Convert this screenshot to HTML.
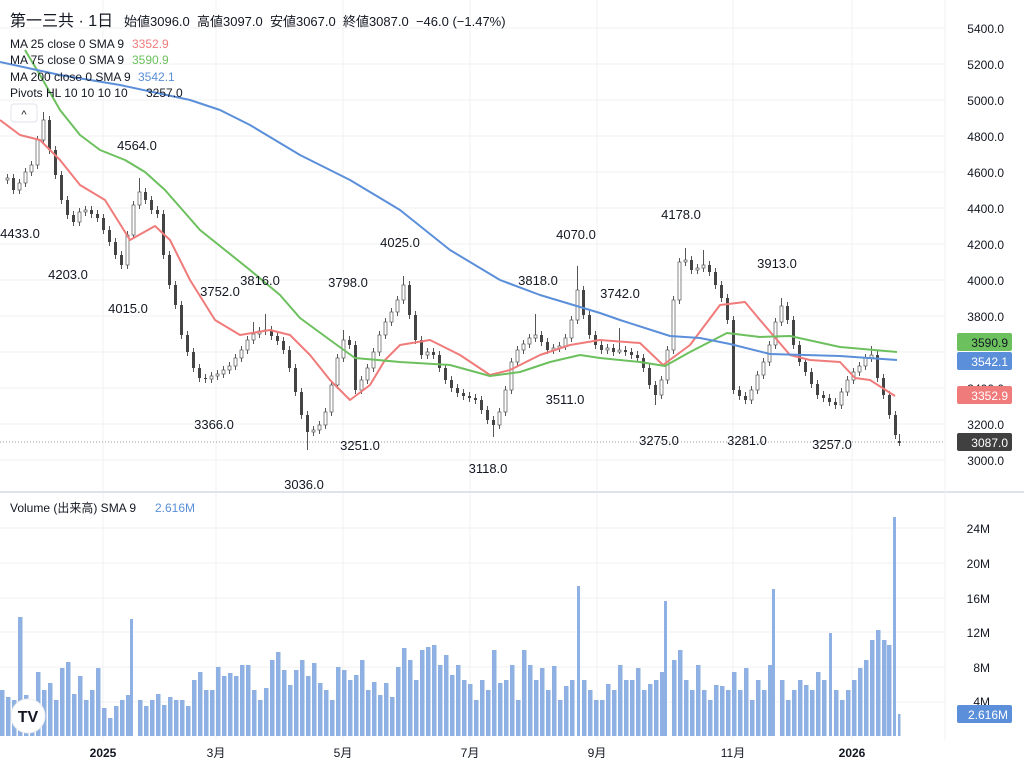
<!DOCTYPE html>
<html><head><meta charset="utf-8"><style>
html,body{margin:0;padding:0;background:#fff;width:1024px;height:768px;overflow:hidden}
svg{display:block;font-family:"Liberation Sans","Noto Sans CJK JP",sans-serif}
</style></head><body>
<svg width="1024" height="768" viewBox="0 0 1024 768" xmlns="http://www.w3.org/2000/svg">
<g stroke="#f0f1f3">
<path d="M0 28H945M0 64H945M0 100H945M0 136H945M0 172H945M0 208H945M0 244H945M0 280H945M0 316H945M0 352H945M0 388H945M0 424H945M0 460H945M0 528H945M0 563H945M0 598H945M0 632H945M0 667H945M0 702H945"/>
<path d="M103 0V740M216 0V740M343 0V740M470 0V740M597 0V740M733 0V740M852 0V740"/>
</g>
<line x1="0" x2="1024" y1="492" y2="492" stroke="#e0e3eb" stroke-width="2"/>
<line x1="945" x2="945" y1="0" y2="740" stroke="#eef0f3"/>

<!-- volume -->
<g fill="#8fb0e3">
<rect x="0" y="690" width="4.5" height="46"/><rect x="6" y="697" width="4.5" height="39"/><rect x="12" y="700" width="4.5" height="36"/><rect x="18" y="617" width="4.5" height="119"/><rect x="24" y="695" width="4.5" height="41"/><rect x="30" y="702" width="4.5" height="34"/><rect x="36" y="672" width="4.5" height="64"/><rect x="42" y="690" width="4.5" height="46"/><rect x="48" y="683" width="4.5" height="53"/><rect x="54" y="700" width="4.5" height="36"/>
<rect x="60" y="668" width="4.5" height="68"/><rect x="66" y="662" width="4.5" height="74"/><rect x="72" y="694" width="4.5" height="42"/><rect x="78" y="676" width="4.5" height="60"/><rect x="84" y="700" width="4.5" height="36"/><rect x="90" y="690" width="4.5" height="46"/><rect x="96" y="668" width="4.5" height="68"/><rect x="102" y="708" width="4.5" height="28"/><rect x="108" y="718" width="4.5" height="18"/><rect x="114" y="706" width="4.5" height="30"/>
<rect x="120" y="700" width="4.5" height="36"/><rect x="126" y="695" width="4.5" height="41"/><rect x="130" y="619" width="3" height="117"/><rect x="138" y="700" width="4.5" height="36"/><rect x="144" y="706" width="4.5" height="30"/><rect x="150" y="700" width="4.5" height="36"/><rect x="156" y="694" width="4.5" height="42"/><rect x="162" y="705" width="4.5" height="31"/><rect x="168" y="697" width="4.5" height="39"/><rect x="174" y="700" width="4.5" height="36"/>
<rect x="180" y="700" width="4.5" height="36"/><rect x="186" y="706" width="4.5" height="30"/><rect x="192" y="680" width="4.5" height="56"/><rect x="198" y="672" width="4.5" height="64"/><rect x="204" y="690" width="4.5" height="46"/><rect x="210" y="690" width="4.5" height="46"/><rect x="216" y="667" width="4.5" height="69"/><rect x="222" y="676" width="4.5" height="60"/><rect x="228" y="673" width="4.5" height="63"/><rect x="234" y="676" width="4.5" height="60"/>
<rect x="240" y="665" width="4.5" height="71"/><rect x="246" y="665" width="4.5" height="71"/><rect x="252" y="690" width="4.5" height="46"/><rect x="258" y="700" width="4.5" height="36"/><rect x="264" y="688" width="4.5" height="48"/><rect x="270" y="660" width="4.5" height="76"/><rect x="276" y="652" width="4.5" height="84"/><rect x="282" y="670" width="4.5" height="66"/><rect x="288" y="685" width="4.5" height="51"/><rect x="294" y="670" width="4.5" height="66"/>
<rect x="300" y="660" width="4.5" height="76"/><rect x="306" y="676" width="4.5" height="60"/><rect x="312" y="663" width="4.5" height="73"/><rect x="318" y="683" width="4.5" height="53"/><rect x="324" y="690" width="4.5" height="46"/><rect x="330" y="700" width="4.5" height="36"/><rect x="336" y="667" width="4.5" height="69"/><rect x="342" y="670" width="4.5" height="66"/><rect x="348" y="680" width="4.5" height="56"/><rect x="354" y="675" width="4.5" height="61"/>
<rect x="360" y="660" width="4.5" height="76"/><rect x="366" y="690" width="4.5" height="46"/><rect x="372" y="682" width="4.5" height="54"/><rect x="378" y="695" width="4.5" height="41"/><rect x="384" y="683" width="4.5" height="53"/><rect x="390" y="697" width="4.5" height="39"/><rect x="396" y="667" width="4.5" height="69"/><rect x="402" y="648" width="4.5" height="88"/><rect x="408" y="660" width="4.5" height="76"/><rect x="414" y="680" width="4.5" height="56"/>
<rect x="420" y="650" width="4.5" height="86"/><rect x="426" y="647" width="4.5" height="89"/><rect x="432" y="645" width="4.5" height="91"/><rect x="438" y="665" width="4.5" height="71"/><rect x="444" y="655" width="4.5" height="81"/><rect x="450" y="675" width="4.5" height="61"/><rect x="456" y="665" width="4.5" height="71"/><rect x="462" y="680" width="4.5" height="56"/><rect x="468" y="684" width="4.5" height="52"/><rect x="474" y="700" width="4.5" height="36"/>
<rect x="480" y="680" width="4.5" height="56"/><rect x="486" y="690" width="4.5" height="46"/><rect x="492" y="650" width="4.5" height="86"/><rect x="498" y="683" width="4.5" height="53"/><rect x="504" y="680" width="4.5" height="56"/><rect x="510" y="665" width="4.5" height="71"/><rect x="516" y="700" width="4.5" height="36"/><rect x="522" y="650" width="4.5" height="86"/><rect x="528" y="665" width="4.5" height="71"/><rect x="534" y="680" width="4.5" height="56"/>
<rect x="540" y="668" width="4.5" height="68"/><rect x="546" y="690" width="4.5" height="46"/><rect x="552" y="666" width="4.5" height="70"/><rect x="558" y="700" width="4.5" height="36"/><rect x="564" y="686" width="4.5" height="50"/><rect x="570" y="680" width="4.5" height="56"/><rect x="577" y="586" width="3" height="150"/><rect x="582" y="680" width="4.5" height="56"/><rect x="588" y="690" width="4.5" height="46"/><rect x="594" y="700" width="4.5" height="36"/>
<rect x="600" y="700" width="4.5" height="36"/><rect x="606" y="684" width="4.5" height="52"/><rect x="612" y="690" width="4.5" height="46"/><rect x="618" y="665" width="4.5" height="71"/><rect x="624" y="680" width="4.5" height="56"/><rect x="630" y="680" width="4.5" height="56"/><rect x="636" y="668" width="4.5" height="68"/><rect x="642" y="690" width="4.5" height="46"/><rect x="648" y="684" width="4.5" height="52"/><rect x="654" y="680" width="4.5" height="56"/>
<rect x="660" y="672" width="4.5" height="64"/><rect x="664" y="601" width="3" height="135"/><rect x="672" y="660" width="4.5" height="76"/><rect x="678" y="650" width="4.5" height="86"/><rect x="684" y="680" width="4.5" height="56"/><rect x="690" y="690" width="4.5" height="46"/><rect x="696" y="665" width="4.5" height="71"/><rect x="702" y="690" width="4.5" height="46"/><rect x="708" y="700" width="4.5" height="36"/><rect x="714" y="685" width="4.5" height="51"/>
<rect x="720" y="686" width="4.5" height="50"/><rect x="726" y="690" width="4.5" height="46"/><rect x="732" y="672" width="4.5" height="64"/><rect x="738" y="690" width="4.5" height="46"/><rect x="744" y="668" width="4.5" height="68"/><rect x="750" y="700" width="4.5" height="36"/><rect x="756" y="680" width="4.5" height="56"/><rect x="762" y="690" width="4.5" height="46"/><rect x="768" y="665" width="4.5" height="71"/><rect x="772" y="589" width="3" height="147"/>
<rect x="780" y="680" width="4.5" height="56"/><rect x="786" y="700" width="4.5" height="36"/><rect x="792" y="690" width="4.5" height="46"/><rect x="798" y="680" width="4.5" height="56"/><rect x="804" y="685" width="4.5" height="51"/><rect x="810" y="690" width="4.5" height="46"/><rect x="816" y="672" width="4.5" height="64"/><rect x="822" y="680" width="4.5" height="56"/><rect x="829" y="633" width="3" height="103"/><rect x="834" y="690" width="4.5" height="46"/>
<rect x="840" y="700" width="4.5" height="36"/><rect x="846" y="690" width="4.5" height="46"/><rect x="852" y="680" width="4.5" height="56"/><rect x="858" y="668" width="4.5" height="68"/><rect x="864" y="660" width="4.5" height="76"/><rect x="870" y="640" width="4.5" height="96"/><rect x="876" y="630" width="4.5" height="106"/><rect x="882" y="640" width="4.5" height="96"/><rect x="887" y="645" width="4.5" height="91"/><rect x="893" y="517" width="3" height="219"/><rect x="898" y="714" width="2.5" height="22"/>
</g>

<!-- wicks -->
<path fill="none" stroke="#444" stroke-width="0.9" d="M7.5 174V184M13.5 174V194M19.5 179V194M25.5 168V187M31.5 161V176M37.5 136V169M43.5 112V144M49.5 116V154M55.5 146V179M61.5 171V204M67.5 196V219M73.5 211V226M79.5 208V226M85.5 206V216M91.5 206V218M97.5 210V222M103.5 214V234M109.5 226V246M115.5 238V259M121.5 251V269M127.5 231V269M133.5 201V239M139.5 178V209M145.5 188V204M151.5 196V214M157.5 206V218M163.5 210V259M169.5 251V289M175.5 281V309M181.5 301V339M187.5 331V356M193.5 348V372M199.5 364V382M205.5 374V383M211.5 372V383M217.5 370V380M223.5 366V378M229.5 362V374M235.5 354V370M241.5 346V362M247.5 336V354M253.5 322V344M259.5 327V338M265.5 314V335M271.5 326V340M277.5 332V345M283.5 337V354M289.5 346V372M295.5 364V396M301.5 388V419M307.5 411V450M313.5 426V436M319.5 421V434M325.5 408V429M331.5 381V416M337.5 354V389M343.5 330V362M349.5 336V349M355.5 341V394M361.5 376V394M367.5 364V384M373.5 348V372M379.5 331V356M385.5 318V339M391.5 308V326M397.5 296V316M403.5 276V304M409.5 281V319M415.5 311V344M421.5 336V359M427.5 348V359M433.5 348V359M439.5 351V372M445.5 364V384M451.5 376V392M457.5 384V397M463.5 389V400M469.5 392V402M475.5 394V404M481.5 396V414M487.5 406V424M493.5 416V437M499.5 408V429M505.5 386V416M511.5 358V394M517.5 346V366M523.5 340V354M529.5 334V348M535.5 314V342M541.5 331V346M547.5 338V354M553.5 344V354M559.5 342V352M565.5 334V350M571.5 316V342M577.5 266V324M583.5 286V319M589.5 311V339M595.5 331V349M601.5 341V354M607.5 344V354M613.5 344V356M619.5 328V354M625.5 346V356M631.5 348V359M637.5 351V362M643.5 354V372M649.5 364V389M655.5 381V405M661.5 376V399M667.5 346V384M673.5 296V354M679.5 258V304M685.5 248V266M691.5 256V274M697.5 264V274M703.5 250V272M709.5 261V276M715.5 268V289M721.5 281V302M727.5 294V324M733.5 316V394M739.5 386V400M745.5 392V404M751.5 386V404M757.5 371V394M763.5 358V379M769.5 341V366M775.5 318V349M781.5 298V326M787.5 302V324M793.5 316V349M799.5 341V366M805.5 358V376M811.5 368V388M817.5 380V399M823.5 391V402M829.5 394V406M835.5 398V409M841.5 388V409M847.5 376V396M853.5 368V384M859.5 362V376M865.5 354V370M871.5 346V362M877.5 351V382M883.5 374V399M889.5 391V419M895.5 411V439M899.5 434V446"/>
<!-- down candles -->
<g fill="#444">
<rect x="12" y="178" width="3" height="12"/><rect x="48" y="120" width="3" height="30"/><rect x="54" y="150" width="3" height="25"/><rect x="60" y="175" width="3" height="25"/><rect x="66" y="200" width="3" height="15"/><rect x="72" y="215" width="3" height="7"/><rect x="90" y="210" width="3" height="4"/><rect x="96" y="214" width="3" height="4"/><rect x="102" y="218" width="3" height="12"/><rect x="108" y="230" width="3" height="12"/><rect x="114" y="242" width="3" height="13"/><rect x="120" y="255" width="3" height="10"/><rect x="144" y="192" width="3" height="8"/><rect x="150" y="200" width="3" height="10"/><rect x="156" y="210" width="3" height="4"/><rect x="162" y="214" width="3" height="41"/><rect x="168" y="255" width="3" height="30"/><rect x="174" y="285" width="3" height="20"/><rect x="180" y="305" width="3" height="30"/><rect x="186" y="335" width="3" height="17"/><rect x="192" y="352" width="3" height="16"/><rect x="198" y="368" width="3" height="10"/><rect x="204" y="378" width="3" height="1"/><rect x="270" y="330" width="3" height="6"/><rect x="276" y="336" width="3" height="5"/><rect x="282" y="341" width="3" height="9"/><rect x="288" y="350" width="3" height="18"/><rect x="294" y="368" width="3" height="24"/><rect x="300" y="392" width="3" height="23"/><rect x="306" y="415" width="3" height="17"/><rect x="348" y="340" width="3" height="5"/><rect x="354" y="345" width="3" height="45"/><rect x="408" y="285" width="3" height="30"/><rect x="414" y="315" width="3" height="25"/><rect x="420" y="340" width="3" height="15"/><rect x="432" y="352" width="3" height="3"/><rect x="438" y="355" width="3" height="13"/><rect x="444" y="368" width="3" height="12"/><rect x="450" y="380" width="3" height="8"/><rect x="456" y="388" width="3" height="5"/><rect x="462" y="393" width="3" height="3"/><rect x="468" y="396" width="3" height="2"/><rect x="474" y="398" width="3" height="2"/><rect x="480" y="400" width="3" height="10"/><rect x="486" y="410" width="3" height="10"/><rect x="492" y="420" width="3" height="5"/><rect x="540" y="335" width="3" height="7"/><rect x="546" y="342" width="3" height="8"/><rect x="582" y="290" width="3" height="25"/><rect x="588" y="315" width="3" height="20"/><rect x="594" y="335" width="3" height="10"/><rect x="600" y="345" width="3" height="5"/><rect x="612" y="348" width="3" height="4"/><rect x="624" y="350" width="3" height="2"/><rect x="630" y="352" width="3" height="3"/><rect x="636" y="355" width="3" height="3"/><rect x="642" y="358" width="3" height="10"/><rect x="648" y="368" width="3" height="17"/><rect x="654" y="385" width="3" height="10"/><rect x="690" y="260" width="3" height="10"/><rect x="708" y="265" width="3" height="7"/><rect x="714" y="272" width="3" height="13"/><rect x="720" y="285" width="3" height="13"/><rect x="726" y="298" width="3" height="22"/><rect x="732" y="320" width="3" height="70"/><rect x="738" y="390" width="3" height="6"/><rect x="744" y="396" width="3" height="4"/><rect x="786" y="306" width="3" height="14"/><rect x="792" y="320" width="3" height="25"/><rect x="798" y="345" width="3" height="17"/><rect x="804" y="362" width="3" height="10"/><rect x="810" y="372" width="3" height="12"/><rect x="816" y="384" width="3" height="11"/><rect x="822" y="395" width="3" height="3"/><rect x="828" y="398" width="3" height="4"/><rect x="834" y="402" width="3" height="3"/><rect x="876" y="355" width="3" height="23"/><rect x="882" y="378" width="3" height="17"/><rect x="888" y="395" width="3" height="20"/><rect x="894" y="415" width="3" height="20"/><rect x="898" y="441" width="3" height="2"/>
</g>
<!-- up candles -->
<g fill="#fff" stroke="#555" stroke-width="0.7">
<rect x="6" y="178" width="3" height="2"/><rect x="18" y="183" width="3" height="7"/><rect x="24" y="172" width="3" height="11"/><rect x="30" y="165" width="3" height="7"/><rect x="36" y="140" width="3" height="25"/><rect x="42" y="120" width="3" height="20"/><rect x="78" y="212" width="3" height="10"/><rect x="84" y="210" width="3" height="2"/><rect x="126" y="235" width="3" height="30"/><rect x="132" y="205" width="3" height="30"/><rect x="138" y="192" width="3" height="13"/><rect x="210" y="376" width="3" height="3"/><rect x="216" y="374" width="3" height="2"/><rect x="222" y="370" width="3" height="4"/><rect x="228" y="366" width="3" height="4"/><rect x="234" y="358" width="3" height="8"/><rect x="240" y="350" width="3" height="8"/><rect x="246" y="340" width="3" height="10"/><rect x="252" y="334" width="3" height="6"/><rect x="258" y="331" width="3" height="3"/><rect x="264" y="330" width="3" height="1"/><rect x="312" y="430" width="3" height="2"/><rect x="318" y="425" width="3" height="5"/><rect x="324" y="412" width="3" height="13"/><rect x="330" y="385" width="3" height="27"/><rect x="336" y="358" width="3" height="27"/><rect x="342" y="340" width="3" height="18"/><rect x="360" y="380" width="3" height="10"/><rect x="366" y="368" width="3" height="12"/><rect x="372" y="352" width="3" height="16"/><rect x="378" y="335" width="3" height="17"/><rect x="384" y="322" width="3" height="13"/><rect x="390" y="312" width="3" height="10"/><rect x="396" y="300" width="3" height="12"/><rect x="402" y="285" width="3" height="15"/><rect x="426" y="352" width="3" height="3"/><rect x="498" y="412" width="3" height="13"/><rect x="504" y="390" width="3" height="22"/><rect x="510" y="362" width="3" height="28"/><rect x="516" y="350" width="3" height="12"/><rect x="522" y="344" width="3" height="6"/><rect x="528" y="338" width="3" height="6"/><rect x="534" y="335" width="3" height="3"/><rect x="552" y="348" width="3" height="2"/><rect x="558" y="346" width="3" height="2"/><rect x="564" y="338" width="3" height="8"/><rect x="570" y="320" width="3" height="18"/><rect x="576" y="290" width="3" height="30"/><rect x="606" y="348" width="3" height="2"/><rect x="618" y="350" width="3" height="2"/><rect x="660" y="380" width="3" height="15"/><rect x="666" y="350" width="3" height="30"/><rect x="672" y="300" width="3" height="50"/><rect x="678" y="262" width="3" height="38"/><rect x="684" y="260" width="3" height="2"/><rect x="696" y="268" width="3" height="2"/><rect x="702" y="265" width="3" height="3"/><rect x="750" y="390" width="3" height="10"/><rect x="756" y="375" width="3" height="15"/><rect x="762" y="362" width="3" height="13"/><rect x="768" y="345" width="3" height="17"/><rect x="774" y="322" width="3" height="23"/><rect x="780" y="306" width="3" height="16"/><rect x="840" y="392" width="3" height="13"/><rect x="846" y="380" width="3" height="12"/><rect x="852" y="372" width="3" height="8"/><rect x="858" y="366" width="3" height="6"/><rect x="864" y="358" width="3" height="8"/><rect x="870" y="355" width="3" height="3"/>
</g>

<!-- moving averages -->
<g fill="none" stroke-width="2" stroke-linejoin="round">
<path stroke="#f07b7b" d="M0 120L20 135L40 140L60 160L80 185L105 200L130 240L155 226L170 240L190 280L215 320L240 335L270 330L290 335L310 355L330 380L350 400L370 385L385 360L400 345L430 340L460 355L490 375L510 370L540 355L570 345L600 340L640 343L663 365L690 345L720 305L745 302L760 320L790 355L810 360L840 362L855 378L870 380L895 396"/>
<path stroke="#6cc05e" d="M25 50L40 75L60 110L80 135L100 150L125 160L145 172L165 190L200 230L250 270L280 295L300 318L330 340L355 358L400 362L450 365L490 376L520 372L550 362L580 355L600 358L640 362L665 366L690 352L727 333L760 337L790 336L840 347L897 352"/>
<path stroke="#5b8fd9" d="M0 62L60 75L120 85L190 100L220 110L250 125L300 155L350 180L400 210L450 250L500 280L540 295L600 313L620 320L670 336L700 338L730 344L770 354L840 356L897 360"/>
</g>
<line x1="0" x2="945" y1="442" y2="442" stroke="#999" stroke-dasharray="1,2"/>

<!-- pivots -->
<g font-size="13" fill="#131722" text-anchor="middle">
<text x="20" y="238">4433.0</text><text x="68" y="279">4203.0</text><text x="137" y="150">4564.0</text><text x="128" y="313">4015.0</text><text x="220" y="296">3752.0</text><text x="260" y="285">3816.0</text><text x="214" y="429">3366.0</text><text x="348" y="287">3798.0</text><text x="304" y="489">3036.0</text><text x="360" y="450">3251.0</text><text x="400" y="247">4025.0</text><text x="488" y="473">3118.0</text><text x="538" y="285">3818.0</text><text x="576" y="239">4070.0</text><text x="620" y="298">3742.0</text><text x="565" y="404">3511.0</text><text x="659" y="445">3275.0</text><text x="681" y="219">4178.0</text><text x="777" y="268">3913.0</text><text x="747" y="445">3281.0</text><text x="832" y="449">3257.0</text>
</g>

<!-- axes -->
<g font-size="12" fill="#131722" text-anchor="end">
<text x="1004" y="33">5400.0</text><text x="1004" y="69">5200.0</text><text x="1004" y="105">5000.0</text><text x="1004" y="141">4800.0</text><text x="1004" y="177">4600.0</text><text x="1004" y="213">4400.0</text><text x="1004" y="249">4200.0</text><text x="1004" y="285">4000.0</text><text x="1004" y="321">3800.0</text><text x="1004" y="393">3400.0</text><text x="1004" y="429">3200.0</text><text x="1004" y="465">3000.0</text>
<text x="990" y="533">24M</text><text x="990" y="568">20M</text><text x="990" y="603">16M</text><text x="990" y="637">12M</text><text x="990" y="672">8M</text><text x="990" y="706">4M</text>
</g>
<g font-size="12" fill="#131722" text-anchor="middle">
<text x="103" y="757" font-weight="bold">2025</text><text x="216" y="757">3月</text><text x="343" y="757">5月</text><text x="470" y="757">7月</text><text x="597" y="757">9月</text><text x="733" y="757">11月</text><text x="852" y="757" font-weight="bold">2026</text>
</g>
<g font-size="12" text-anchor="end">
<rect x="957" y="333" width="55" height="18" rx="2" fill="#6cc05e"/><text x="1008" y="347" fill="#131722">3590.9</text>
<rect x="957" y="352" width="55" height="18" rx="2" fill="#5b8fd9"/><text x="1008" y="366" fill="#fff">3542.1</text>
<rect x="957" y="386" width="55" height="18" rx="2" fill="#f07b7b"/><text x="1008" y="400" fill="#fff">3352.9</text>
<rect x="957" y="433" width="55" height="18" rx="2" fill="#404040"/><text x="1008" y="447" fill="#fff">3087.0</text>
<rect x="957" y="705" width="55" height="18" rx="2" fill="#5b8fd9"/><text x="1008" y="719" fill="#fff">2.616M</text>
</g>

<!-- header -->
<text x="10" y="26" font-size="16" fill="#131722">第一三共 · 1日</text>
<text x="124" y="26" font-size="13" fill="#131722" xml:space="preserve">始値3096.0  高値3097.0  安値3067.0  終値3087.0  −46.0 (−1.47%)</text>
<g font-size="12" fill="#131722">
<text x="10" y="48">MA 25 close 0 SMA 9</text><text x="132" y="48" fill="#f07b7b">3352.9</text>
<text x="10" y="64">MA 75 close 0 SMA 9</text><text x="132" y="64" fill="#6cc05e">3590.9</text>
<text x="10" y="81">MA 200 close 0 SMA 9</text><text x="138" y="81" fill="#5b8fd9">3542.1</text>
<text x="10" y="97">Pivots HL 10 10 10 10</text><text x="146" y="97">3257.0</text>
<text x="10" y="512">Volume (出来高) SMA 9</text><text x="155" y="512" fill="#5b8fd9">2.616M</text>
</g>
<rect x="11" y="104" width="26" height="18" rx="3" fill="#fff" stroke="#e0e3eb"/>
<text x="24" y="118" font-size="11" fill="#131722" text-anchor="middle">^</text>
<circle cx="28" cy="716" r="17" fill="#fff" stroke="#eee"/>
<text x="28" y="722" font-size="16" font-weight="bold" fill="#131722" text-anchor="middle">TV</text>
</svg>
</body></html>
